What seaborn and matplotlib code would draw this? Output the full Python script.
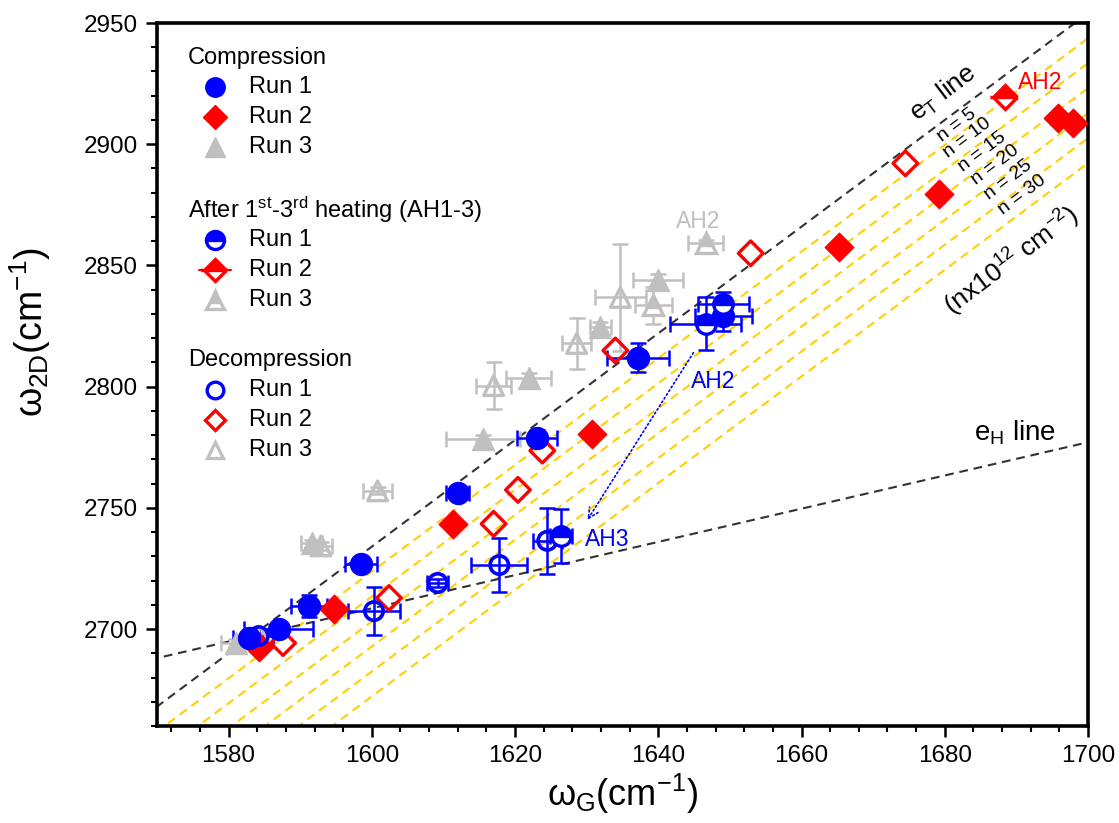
import numpy as np
import matplotlib
matplotlib.use("Agg")
import matplotlib.pyplot as plt
import seaborn as sns

# ---------------- data ----------------
comp1_x = [1582.8, 1587.0, 1591.2, 1598.5, 1612.0, 1623.0, 1637.2, 1649.1]
comp1_y = [2696.3, 2700.0, 2709.5, 2726.9, 2756.2, 2779.0, 2812.0, 2829.0]
comp1_xerr = [2.2, 4.8, 2.5, 2.2, 1.6, 2.8, 4.3, 4.0]
comp1_yerr = [1.5, 1.5, 4.5, 2.0, 2.0, 3.0, 6.0, 6.0]

comp2_x = [1584.2, 1594.7, 1611.4, 1630.8, 1665.3, 1679.2, 1695.8, 1697.9]
comp2_y = [2692.6, 2708.3, 2743.4, 2780.6, 2857.4, 2879.3, 2910.7, 2908.7]

comp3_x = [1581.0, 1591.6, 1615.5, 1621.9, 1631.9, 1640.0]
comp3_y = [2694.2, 2735.3, 2778.5, 2803.7, 2824.8, 2843.8]
comp3_xerr = [2.0, 1.5, 5.2, 3.1, 1.5, 3.5]
comp3_yerr = [1.5, 1.5, 1.5, 2.0, 2.0, 2.5]

dec1_x = [1584.2, 1600.3, 1609.2, 1617.8, 1624.5]
dec1_y = [2697.1, 2707.4, 2719.0, 2726.4, 2736.4]
dec1_xerr = [2.0, 3.6, 1.5, 3.9, 2.0]
dec1_yerr = [3.0, 10.0, 1.5, 11.0, 13.6]

dec2_x = [1587.6, 1602.4, 1617.0, 1620.4, 1623.8, 1634.0, 1652.9, 1674.5]
dec2_y = [2694.2, 2712.8, 2743.4, 2757.4, 2773.6, 2814.9, 2855.0, 2892.1]

dec3_x = [1584.5, 1592.9, 1600.8, 1617.0, 1628.6, 1634.7]
dec3_y = [2697.0, 2734.3, 2757.0, 2800.4, 2817.8, 2836.8]
dec3_xerr = [1.5, 1.5, 2.0, 2.5, 2.0, 3.6]
dec3_yerr = [1.5, 1.5, 1.5, 9.7, 10.7, 22.0]

ah1_x = [1626.4, 1646.6, 1649.1]
ah1_y = [2738.4, 2826.0, 2833.9]
ah1_xerr = [1.5, 4.9, 3.5]
ah1_yerr = [11.0, 11.0, 5.0]

ah2_x = [1688.4]
ah2_y = [2919.4]

ah3_x = [1639.3, 1646.6]
ah3_y = [2833.5, 2859.1]
ah3_xerr = [2.6, 2.4]
ah3_yerr = [7.5, 1.5]

# reference lines
et_x0, et_y0, et_slope = 1570.0, 2668.0, 2.2
eh_x0, eh_y0, eh_slope = 1570.0, 2688.0, 0.685
doping_n = [5, 10, 15, 20, 25, 30]
doping_shift = 10.3  # shift in omega_2D per 5e12 cm^-2
line_x = [1565.0, 1705.0]

x_ticks = [1580, 1600, 1620, 1640, 1660, 1680, 1700]
y_ticks = [2700, 2750, 2800, 2850, 2900, 2950]

BLUE, RED, GRAY, GOLD = "#0000FF", "#FF0000", "#C0C0C0", "#FFD000"

# ---------------- style ----------------
sns.set_theme(style="ticks")
plt.rcParams["font.family"] = ["Liberation Sans", "DejaVu Sans"]
plt.rcParams["mathtext.fontset"] = "custom"
plt.rcParams["mathtext.rm"] = "Liberation Sans"
plt.rcParams["mathtext.it"] = "Liberation Sans"
for key in ["text.color", "axes.labelcolor", "xtick.color", "ytick.color", "axes.edgecolor"]:
    plt.rcParams[key] = "black"

fig = plt.figure(figsize=(11.19, 8.23), dpi=100)
ax = fig.add_axes([157 / 1119, 1 - 726 / 823, (1088 - 157) / 1119, (726 - 23) / 823])

# reference lines
dash = (0, (4.2, 2.8))
lx = np.array(line_x)
ax.plot(lx, et_y0 + et_slope * (lx - et_x0), ls=dash, color="#333333", lw=1.5, zorder=2)
ax.plot(lx, eh_y0 + eh_slope * (lx - eh_x0), ls=dash, color="#333333", lw=1.5, zorder=2)
for k, n in enumerate(doping_n, start=1):
    ax.plot(lx, et_y0 - doping_shift * k + et_slope * (lx - et_x0), ls=dash,
            color=GOLD, lw=1.5, zorder=1)

eb = dict(fmt="none", capsize=6, elinewidth=1.8, capthick=1.8, zorder=3)
ax.errorbar(comp3_x, comp3_y, xerr=comp3_xerr, yerr=comp3_yerr, ecolor=GRAY, **eb)
ax.errorbar(dec3_x, dec3_y, xerr=dec3_xerr, yerr=dec3_yerr, ecolor=GRAY, **eb)
ax.errorbar(ah3_x, ah3_y, xerr=ah3_xerr, yerr=ah3_yerr, ecolor=GRAY, **eb)
ax.errorbar(comp1_x, comp1_y, xerr=comp1_xerr, yerr=comp1_yerr, ecolor=BLUE, **eb)
ax.errorbar(dec1_x, dec1_y, xerr=dec1_xerr, yerr=dec1_yerr, ecolor=BLUE, **eb)
ax.errorbar(ah1_x, ah1_y, xerr=ah1_xerr, yerr=ah1_yerr, ecolor=BLUE, **eb)

# markers
sz_c, sz_d, sz_t = 250, 210, 250
sns.scatterplot(x=comp3_x, y=comp3_y, marker="^", s=sz_t, color=GRAY, edgecolor=GRAY, linewidth=1, ax=ax, zorder=4)
sns.scatterplot(x=dec3_x, y=dec3_y, marker="^", s=sz_t * 0.8, color=GRAY, facecolor="none", edgecolor=GRAY, linewidth=2.4, ax=ax, zorder=4)
sns.scatterplot(x=comp2_x, y=comp2_y, marker="D", s=sz_d, color=RED, edgecolor=RED, linewidth=1, ax=ax, zorder=5)
sns.scatterplot(x=dec2_x, y=dec2_y, marker="D", s=sz_d * 0.75, color=RED, facecolor="none", edgecolor=RED, linewidth=2.4, ax=ax, zorder=5)
sns.scatterplot(x=comp1_x, y=comp1_y, marker="o", s=sz_c, color=BLUE, edgecolor=BLUE, linewidth=1, ax=ax, zorder=6)
sns.scatterplot(x=dec1_x, y=dec1_y, marker="o", s=sz_c * 0.7, color=BLUE, facecolor="none", edgecolor=BLUE, linewidth=2.6, ax=ax, zorder=6)

half = dict(ls="none", fillstyle="top", markerfacecoloralt="white", mew=2.4)
ax.plot(ah3_x, ah3_y, marker="^", ms=14, color=GRAY, **half, zorder=4)
ax.plot(ah2_x, ah2_y, marker="D", ms=12, color=RED, **half, zorder=5)
ax.plot(ah1_x, ah1_y, marker="o", ms=14, color=BLUE, **half, zorder=6)

# annotations
ang = 37
ax.text(1679.8, 2921.0, r"e$_{\mathrm{T}}$ line", rotation=ang, rotation_mode="anchor",
        ha="center", va="center", fontsize=19)
n_pos_x = [1681.7, 1683.2, 1685.2, 1687.0, 1688.8, 1690.8]
n_pos_y = [2907.9, 2902.5, 2896.8, 2891.4, 2885.1, 2878.9]
for n, tx, ty in zip(doping_n, n_pos_x, n_pos_y):
    ax.text(tx, ty, f"n = {n}", rotation=ang, rotation_mode="anchor",
            ha="center", va="center", fontsize=14)
ax.text(1689.4, 2852.0, r"(nx10$^{12}$ cm$^{-2}$)", rotation=ang, rotation_mode="anchor",
        ha="center", va="center", fontsize=19)
ax.text(1689.8, 2781.0, r"e$_{\mathrm{H}}$ line", ha="center", va="center", fontsize=20)
ax.text(1693.3, 2925.6, "AH2", color=RED, ha="center", va="center", fontsize=16.5)
ax.text(1645.6, 2868.2, "AH2", color=GRAY, ha="center", va="center", fontsize=16.5)
ax.text(1647.7, 2802.0, "AH2", color=BLUE, ha="center", va="center", fontsize=16.5)
ax.text(1632.9, 2737.0, "AH3", color=BLUE, ha="center", va="center", fontsize=16.5)
ax.annotate("", xy=(1630.1, 2745.0), xytext=(1644.9, 2814.0),
            arrowprops=dict(arrowstyle="->", color=BLUE, lw=1.2, ls=":", mutation_scale=18,
                            shrinkA=0, shrinkB=0))

# manual legend in axes coordinates
def ypx(p):
    return 1 - (p - 23) / 703

tx_title, tx_mark, tx_lab = 0.033, 0.062, 0.099
groups = [
    ("Compression", 58, [(87, "o", BLUE, "full"), (117, "D", RED, "full"), (147, "^", GRAY, "full")]),
    ("After 1$^{\\mathrm{st}}$-3$^{\\mathrm{rd}}$ heating (AH1-3)", 210,
     [(240, "o", BLUE, "top"), (270, "D", RED, "top"), (300, "^", GRAY, "top")]),
    ("Decompression", 360, [(390, "o", BLUE, "none"), (420, "D", RED, "none"), (450, "^", GRAY, "none")]),
]
for title, tyy, rows in groups:
    ax.text(tx_title, ypx(tyy), title, transform=ax.transAxes, ha="left", va="center", fontsize=17)
    for i, (yy, mk, col, fs) in enumerate(rows, start=1):
        ms = {"o": 14, "D": 12, "^": 14}[mk]
        if fs == "full":
            ax.plot([tx_mark], [ypx(yy)], marker=mk, ms=ms, color=col, mec=col, transform=ax.transAxes, clip_on=False)
        elif fs == "top":
            if mk == "D":
                ax.plot([tx_mark - 0.017, tx_mark + 0.017], [ypx(yy)] * 2, color=col, lw=1.5, transform=ax.transAxes)
            ax.plot([tx_mark], [ypx(yy)], marker=mk, ms=ms - 1, color=col, fillstyle="top",
                    markerfacecoloralt="white", mew=2.4, transform=ax.transAxes)
        else:
            ax.plot([tx_mark], [ypx(yy)], marker=mk, ms=ms - 2, color=col, mfc="none", mew=2.4,
                    transform=ax.transAxes)
        ax.text(tx_lab, ypx(yy), f"Run {i}", transform=ax.transAxes, ha="left", va="center", fontsize=17)

# axes
ax.set_xlim(1570, 1700)
ax.set_ylim(2660, 2950)
ax.set_xticks(x_ticks)
ax.set_yticks(y_ticks)
ax.xaxis.set_minor_locator(matplotlib.ticker.MultipleLocator(4))
ax.yaxis.set_minor_locator(matplotlib.ticker.MultipleLocator(10))
ax.tick_params(axis="both", which="major", direction="out", length=8, width=1.8,
               labelsize=17.5, color="black", labelcolor="black", pad=6)
ax.tick_params(axis="both", which="minor", direction="out", length=4.5, width=1.5, color="black")
for s in ax.spines.values():
    s.set_linewidth(2.6)
    s.set_color("black")
ax.set_xlabel(r"$\omega_{\mathrm{G}}$(cm$^{-1}$)", fontsize=26, labelpad=3)
ax.set_ylabel(r"$\omega_{\mathrm{2D}}$(cm$^{-1}$)", fontsize=27, labelpad=10)
ax.yaxis.set_label_coords(-0.112, 0.56)

fig.savefig("out.png", dpi=100)
